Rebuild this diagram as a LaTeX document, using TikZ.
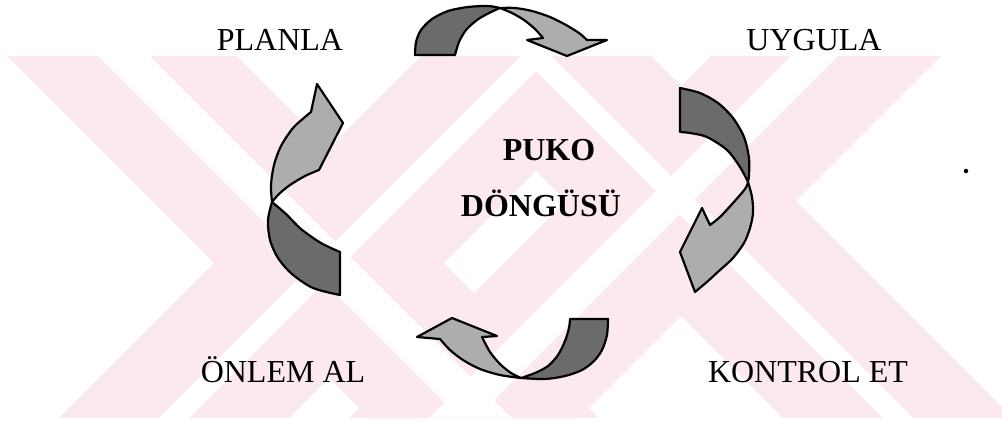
\documentclass[tikz,border=0pt]{standalone}
\usepackage{fontspec}
\setmainfont{Liberation Serif}
\definecolor{wm}{RGB}{252,233,237}
\tikzset{
  arr/.style={draw=black, line width=2.2pt, line join=round},
  darkpart/.style={arr, fill=black!58},
  lightpart/.style={arr, fill=black!32},
  lbl/.style={font=\fontsize{32}{38}\selectfont, anchor=base, inner sep=0pt},
  ttl/.style={lbl, font=\fontsize{32}{38}\selectfont\bfseries},
  wmband/.style={fill=wm},
  wmgap/.style={fill=white}
}
\begin{document}
\begin{tikzpicture}[x=1pt,y=-1pt]
\useasboundingbox (0,0) rectangle (1002,421);
\fill[white] (0,0) rectangle (1002,421);
% watermark
\begin{scope}
\clip (0,56) rectangle (1002,418);
\fill[wmband] (7,56) -- (237,56) -- (599,418) -- (369,418) -- cycle;
\fill[wmband] (421,56) -- (651,56) -- (289,418) -- (59,418) -- cycle;
\fill[wmband] (421,56) -- (651,56) -- (1013,418) -- (783,418) -- cycle;
\fill[wmband] (711,56) -- (941,56) -- (579,418) -- (349,418) -- cycle;
\fill[wmgap] (98,56) -- (150,56) -- (512,418) -- (460,418) -- cycle;
\fill[wmgap] (521,56) -- (551,56) -- (189,418) -- (159,418) -- cycle;
\fill[wmgap] (521,56) -- (551,56) -- (913,418) -- (883,418) -- cycle;
\fill[wmgap] (791,56) -- (838,56) -- (476,418) -- (429,418) -- cycle;
\end{scope}
% top arrow
\path[darkpart] (455,55) -- (415,55) -- plot[smooth] coordinates {(415,55) (416,42) (421,30) (432,19) (448,11) (468,7) (488,6) (500,8)} -- plot[smooth] coordinates {(500,8) (489,13) (477,20) (466,30) (459,42) (455,55)} -- cycle;
\path[lightpart] plot[smooth] coordinates {(500,8) (515,8) (532,11) (550,17) (566,25) (579,33) (587,40)} -- (607,40) -- (567,56) -- (527,40) -- (543,38) -- plot[smooth] coordinates {(543,38) (535,29) (524,20) (512,13) (500,8)} -- cycle;
% right arrow
\path[darkpart] (680,132) -- (680,88) -- plot[smooth] coordinates {(680,88) (700,93) (718,103) (733,118) (744,137) (749,158) (749,175) (748,182)} -- plot[smooth] coordinates {(748,182) (740,167) (727,150) (707,137) (690,133) (680,132)} -- cycle;
\path[lightpart] plot[smooth] coordinates {(748,182) (752,197) (753,213) (750,228) (744,243) (733,258) (720,270) (708,281) (695,292)} -- (680,252) -- (702,208) -- (710,225) -- plot[smooth] coordinates {(710,225) (720,217) (733,203) (745,189) (748,182)} -- cycle;
% bottom arrow
\path[darkpart] (570,319) -- (608,319) -- plot[smooth] coordinates {(608,319) (607,335) (602,350) (594,361) (582,370) (565,376) (545,379) (521,378)} -- plot[smooth] coordinates {(521,378) (535,373) (548,366) (558,355) (565,341) (569,328) (570,319)} -- cycle;
\path[lightpart] plot[smooth] coordinates {(521,378) (500,375) (480,369) (463,360) (450,350) (440,339)} -- (417,337) -- (452,318) -- (497,336) -- (482,337) -- plot[smooth] coordinates {(482,337) (490,352) (500,364) (511,373) (521,378)} -- cycle;
% left arrow
\path[darkpart] plot[smooth] coordinates {(272,202) (268,220) (270,240) (278,258) (292,274) (313,288) (340,295)} -- (340,252) -- plot[smooth] coordinates {(340,252) (321,243) (301,229) (286,214) (272,202)} -- cycle;
\path[lightpart] plot[smooth] coordinates {(272,202) (271,185) (274,165) (281,146) (293,128) (305,117) (311,112)} -- (317,84) -- (343,123) -- (319,170) -- plot[smooth] coordinates {(319,170) (305,176) (290,185) (279,194) (272,202)} -- cycle;
% labels
\node[lbl] (planla) at (280,50) {PLANLA};
\node[lbl] (uygula) at (814,50) {UYGULA};
\node[lbl] (onlem) at (283,382) {ÖNLEM AL};
\node[lbl] (kontrol) at (808,382) {KONTROL ET};
\node[ttl] (puko) at (549,160) {PUKO};
\node[ttl] (dongu) at (541,216) {DÖNGÜSÜ};
\node[circle, fill=black, inner sep=0pt, minimum size=4.5pt] (dot) at (966,171) {};
\end{tikzpicture}
\end{document}
